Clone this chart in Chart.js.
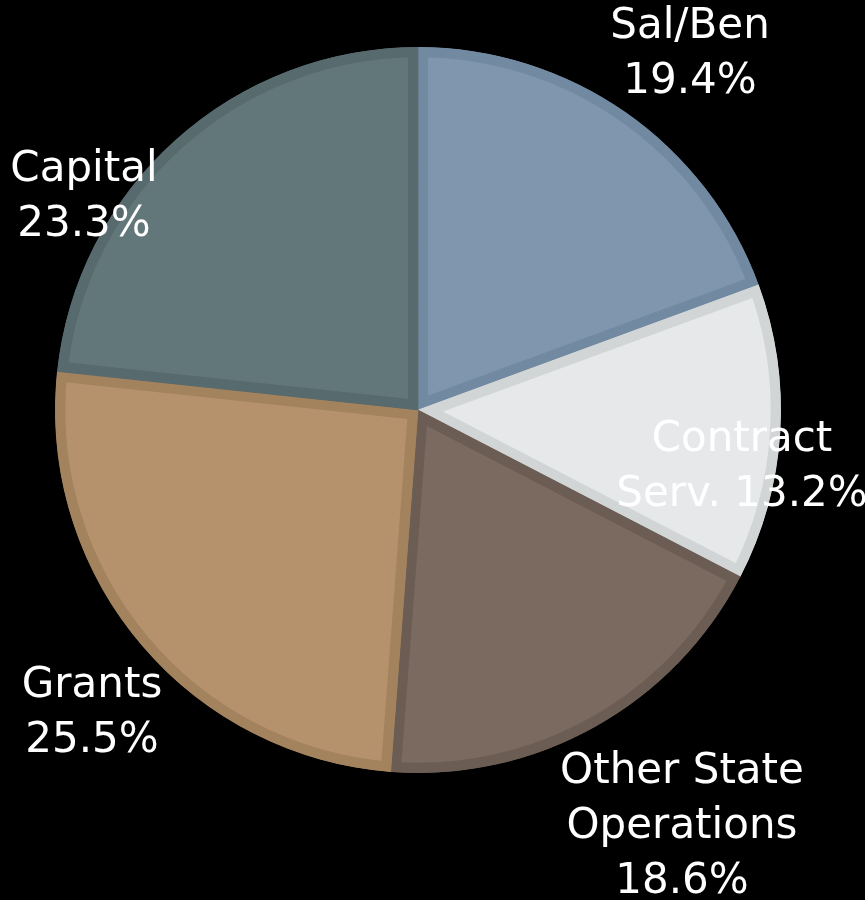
<!DOCTYPE html>
<html>
<head>
<meta charset="utf-8">
<script src="https://cdn.jsdelivr.net/npm/chart.js@4/dist/chart.umd.min.js"></script>
<style>
  html, body { margin: 0; padding: 0; background: #000; }
  #wrap { width: 865px; height: 900px; }
</style>
</head>
<body>
<div id="wrap"><canvas id="pie" width="865" height="900"></canvas></div>
<script>
// data
const categories = ["Sal/Ben", "Contract Serv.", "Other State Operations", "Grants", "Capital"];
const shares = [19.4, 13.2, 18.6, 25.5, 23.3];

// slice colours (fill + darker inner rim)
const fillColors = ["#7f96ae", "#e6e8ea", "#7a6a60", "#b5926c", "#62777a"];
const rimColors = ["#7189a1", "#d2d5d5", "#6b5d54", "#a3825e", "#576a6d"];

// label lines, as shown on the slide
const labelLines = [
  ["Sal/Ben", "19.4%"],
  ["Contract", "Serv. 13.2%"],
  ["Other State", "Operations", "18.6%"],
  ["Grants", "25.5%"],
  ["Capital", "23.3%"]
];
const labelPos = [[690, 27], [742, 440], [682, 772], [92, 686], [84, 170]];

const labelPlugin = {
  id: 'sliceLabels',
  afterDraw(chart) {
    const ctx = chart.ctx;
    ctx.save();
    ctx.fillStyle = '#ffffff';
    ctx.font = '42px "DejaVu Sans"';
    ctx.textAlign = 'center';
    ctx.textBaseline = 'middle';
    labelLines.forEach((lines, i) => {
      lines.forEach((t, j) => {
        ctx.fillText(t, labelPos[i][0], labelPos[i][1] + j * 55);
      });
    });
    ctx.restore();
  }
};

new Chart(document.getElementById('pie'), {
  type: 'pie',
  data: {
    labels: categories,
    datasets: [{
      data: shares,
      backgroundColor: fillColors,
      borderColor: rimColors,
      borderWidth: 10,
      borderAlign: 'inner',
      offset: 0,
      hoverOffset: 0
    }]
  },
  options: {
    responsive: false,
    animation: false,
    layout: { padding: { left: 55, right: 84, top: 47, bottom: 127 } },
    plugins: {
      legend: { display: false },
      tooltip: { enabled: false }
    }
  },
  plugins: [labelPlugin]
});
</script>
</body>
</html>
